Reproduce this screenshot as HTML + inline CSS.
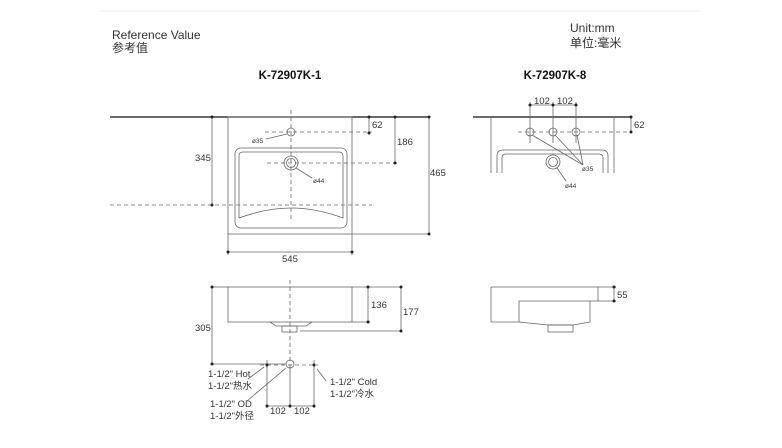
<!DOCTYPE html>
<html><head><meta charset="utf-8"><style>
html,body{margin:0;padding:0;background:#fff;}
svg{display:block;font-family:"Liberation Sans","Noto Sans CJK SC",sans-serif;}
</style></head><body>
<svg width="782" height="448" viewBox="0 0 782 448" xmlns="http://www.w3.org/2000/svg">
<line x1="100" y1="11" x2="700" y2="11" stroke="#eee" stroke-width="1"/>
<g fill="#333" font-size="12">
<text x="112" y="39">Reference Value</text>
<text x="112" y="52">参考值</text>
<text x="570" y="32">Unit:mm</text>
<text x="570" y="47">单位:毫米</text>
</g>
<g fill="#111" font-size="11.5" font-weight="bold" text-anchor="middle">
<text x="290" y="79">K-72907K-1</text>
<text x="555" y="79">K-72907K-8</text>
</g>
<g stroke="#666" stroke-width="0.8" fill="none">
<!-- top-left plan -->
<line x1="110" y1="117" x2="430" y2="117" stroke="#111" stroke-width="1.3"/>
<rect x="228" y="117" width="124" height="117"/>
<rect x="235" y="148" width="112" height="80" rx="6"/>
<path d="M239 218 V156 Q239 152 243 152 H339 Q343 152 343 156 V218 Q316 208 291 208 Q266 208 239 218"/>
<circle cx="291" cy="132" r="4"/>
<circle cx="291" cy="163" r="7"/><circle cx="291" cy="163" r="4.5"/>
<g stroke-dasharray="4,3">
<line x1="291" y1="110" x2="291" y2="220"/>
<line x1="265" y1="132" x2="372" y2="132"/>
<line x1="267" y1="163" x2="398" y2="163"/>
<line x1="110" y1="205" x2="372" y2="205"/>
</g>
<line x1="369" y1="117" x2="369" y2="133"/>
<line x1="395" y1="117" x2="395" y2="163"/>
<line x1="429" y1="117" x2="429" y2="234"/>
<line x1="352" y1="234" x2="430" y2="234"/>
<line x1="212" y1="117" x2="212" y2="205"/>
<line x1="228" y1="234" x2="228" y2="255"/><line x1="352" y1="234" x2="352" y2="255"/>
<line x1="228" y1="252" x2="352" y2="252"/>
<line x1="266" y1="139" x2="287" y2="134"/>
<line x1="296" y1="168" x2="312" y2="178"/>
<!-- top-right plan -->
<line x1="473" y1="117" x2="632" y2="117" stroke="#111" stroke-width="1.3"/>
<line x1="491" y1="117" x2="491" y2="173"/><line x1="614" y1="117" x2="614" y2="173"/>
<path d="M497 173 V156 Q497 150 503 150 H602 Q608 150 608 156 V173"/>
<path d="M502 173 V158 Q502 154 506 154 H599 Q603 154 603 158 V173"/>
<circle cx="530" cy="132" r="4"/><circle cx="553" cy="132" r="4"/><circle cx="576" cy="132" r="4"/>
<circle cx="553" cy="162" r="7"/><circle cx="553" cy="162" r="4.5"/>
<line x1="518" y1="132" x2="630" y2="132" stroke-dasharray="4,3"/>
<line x1="530" y1="102" x2="530" y2="143"/><line x1="553" y1="102" x2="553" y2="143"/><line x1="576" y1="102" x2="576" y2="143"/>
<line x1="530" y1="105" x2="576" y2="105"/>
<line x1="631" y1="117" x2="631" y2="132"/>
<line x1="532" y1="135" x2="583" y2="165"/><line x1="555" y1="135" x2="583" y2="165"/><line x1="577" y1="135" x2="583" y2="165"/>
<line x1="557" y1="168" x2="566" y2="181"/>
<!-- bottom-left elevation -->
<rect x="228" y="287" width="124" height="35"/>
<path d="M270 322 L276 326 H306 L312 322"/>
<rect x="282" y="326" width="15" height="6"/>
<line x1="290" y1="280" x2="290" y2="372" stroke-dasharray="4,3"/>
<line x1="352" y1="287" x2="402" y2="287"/>
<line x1="300" y1="331" x2="402" y2="331"/>
<line x1="368" y1="287" x2="368" y2="322"/><line x1="352" y1="322" x2="370" y2="322"/>
<line x1="401" y1="287" x2="401" y2="331"/>
<line x1="212" y1="287" x2="212" y2="364"/><line x1="212" y1="287" x2="228" y2="287"/>
<line x1="212" y1="364" x2="286" y2="364"/>
<line x1="260" y1="365" x2="318" y2="365" stroke-dasharray="4,3"/>
<circle cx="290" cy="364" r="4"/>
<line x1="267" y1="360" x2="267" y2="408"/><line x1="314" y1="360" x2="314" y2="408"/>
<line x1="290" y1="368" x2="290" y2="408"/>
<line x1="267" y1="406" x2="314" y2="406"/>
<line x1="264" y1="367" x2="248" y2="379"/>
<line x1="317" y1="369" x2="326" y2="381"/>
<line x1="286" y1="368" x2="247" y2="401"/>
<!-- bottom-right elevation -->
<path d="M491 287 H598 V301 H590 V322 L573 325 H548 L519 322 V301 H590"/>
<line x1="491" y1="287" x2="491" y2="322"/><line x1="491" y1="322" x2="519" y2="322"/>
<rect x="548" y="325" width="25" height="7"/>
<line x1="598" y1="287" x2="616" y2="287"/><line x1="598" y1="301" x2="616" y2="301"/>
<line x1="614" y1="287" x2="614" y2="301"/>
</g>
<g fill="#222">
<circle cx="369" cy="117" r="1.5"/><circle cx="369" cy="133" r="1.5"/>
<circle cx="395" cy="117" r="1.5"/><circle cx="395" cy="163" r="1.5"/>
<circle cx="429" cy="117" r="1.5"/><circle cx="429" cy="234" r="1.5"/>
<circle cx="212" cy="117" r="1.5"/><circle cx="212" cy="205" r="1.5"/>
<circle cx="228" cy="252" r="1.5"/><circle cx="352" cy="252" r="1.5"/>
<circle cx="530" cy="105" r="1.5"/><circle cx="553" cy="105" r="1.5"/><circle cx="576" cy="105" r="1.5"/>
<circle cx="631" cy="117" r="1.5"/><circle cx="631" cy="132" r="1.5"/>
<circle cx="368" cy="287" r="1.5"/><circle cx="368" cy="322" r="1.5"/>
<circle cx="401" cy="287" r="1.5"/><circle cx="401" cy="331" r="1.5"/>
<circle cx="212" cy="287" r="1.5"/><circle cx="212" cy="364" r="1.5"/>
<circle cx="267" cy="365" r="1.5"/><circle cx="314" cy="365" r="1.5"/>
<circle cx="267" cy="406" r="1.5"/><circle cx="290" cy="406" r="1.5"/><circle cx="314" cy="406" r="1.5"/>
<circle cx="614" cy="287" r="1.5"/><circle cx="614" cy="301" r="1.5"/>
</g>
<g fill="#333" font-size="9.5">
<text x="372" y="128">62</text>
<text x="397" y="145">186</text>
<text x="430" y="176">465</text>
<text x="195" y="161">345</text>
<text x="282" y="262">545</text>
<text x="252" y="143" font-size="6.5">ø35</text>
<text x="313" y="183" font-size="6.5">ø44</text>
<text x="534" y="104">102</text>
<text x="557" y="104">102</text>
<text x="634" y="128">62</text>
<text x="582" y="171" font-size="6.5">ø35</text>
<text x="565" y="188" font-size="6.5">ø44</text>
<text x="371" y="308">136</text>
<text x="403" y="315">177</text>
<text x="195" y="331">305</text>
<text x="270" y="414">102</text>
<text x="294" y="414">102</text>
<text x="617" y="298">55</text>
<text x="208" y="377">1-1/2" Hot</text>
<text x="208" y="389">1-1/2"热水</text>
<text x="330" y="385">1-1/2" Cold</text>
<text x="330" y="397">1-1/2"冷水</text>
<text x="210" y="407">1-1/2" OD</text>
<text x="210" y="419">1-1/2"外径</text>
</g>
</svg>
</body></html>
